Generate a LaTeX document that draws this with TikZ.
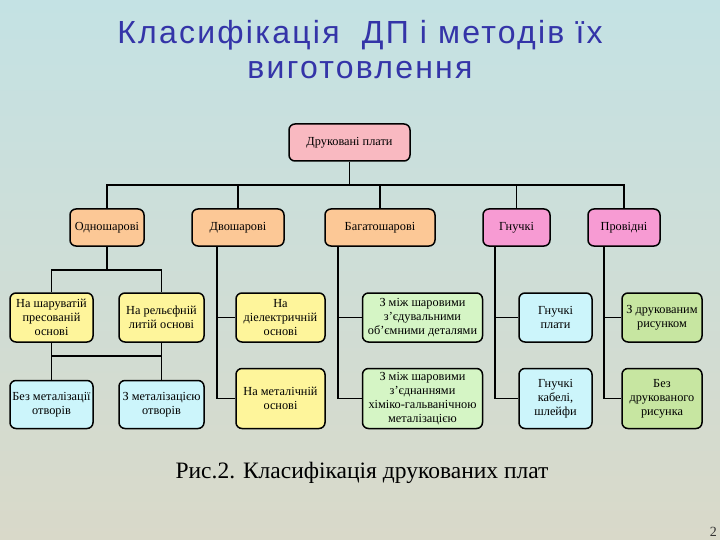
\documentclass[tikz,border=0pt]{standalone}
\usepackage{fontspec}
\setmainfont{Liberation Serif}
\newfontfamily\titlefont[LetterSpace=7]{Liberation Sans}
\usetikzlibrary{positioning}
\definecolor{titleBlue}{HTML}{3434A8}
\definecolor{rootPink}{HTML}{F9B9C1}
\definecolor{typeOrange}{HTML}{FCC896}
\definecolor{typeMagenta}{HTML}{F79BD3}
\definecolor{baseYellow}{HTML}{FEF59B}
\definecolor{holeCyan}{HTML}{CCF5FB}
\definecolor{layerGreen}{HTML}{D5F5C5}
\definecolor{wireGreen}{HTML}{C7E6A1}
\definecolor{bgTop}{HTML}{C4E2E4}
\definecolor{bgMid}{HTML}{E3ECE4}
\definecolor{bgBottom}{HTML}{D9D9C9}

\begin{document}
\begin{tikzpicture}[
            x=1pt, y=-1pt,
            box/.style={
                    rectangle,
                    rounded corners=6pt,
                    draw=black,
                    line width=1.5pt,
                    minimum height=37pt,
                    inner xsep=2pt,
                    inner ysep=1pt,
                    align=center,
                    font=\fontsize{12.3}{14}\selectfont
                },
            link/.style={line width=1.6pt}
        ]
        \useasboundingbox (0,0) rectangle (720,540);
        \shade[top color=bgTop, middle color=bgMid, bottom color=bgBottom] (0,0) rectangle (720,540);

        \node[font=\titlefont\fontsize{32}{35}\selectfont, text=titleBlue, align=center] (title) at (360,50) {Класифікація\ \ ДП і методів їх\\виготовлення};

        \node[box, fill=rootPink, minimum width=121pt] (plata) at (349.5,142.5) {Друковані плати};

        \node[box, fill=typeOrange, minimum width=74pt] (odn) at (107,227.5) {Одношарові};
        \node[box, fill=typeOrange, minimum width=92pt] (dvo) at (238,227.5) {Двошарові};
        \node[box, fill=typeOrange, minimum width=110pt] (bag) at (380,227.5) {Багатошарові};
        \node[box, fill=typeMagenta, minimum width=67pt] (gnu) at (516.5,227.5) {Гнучкі};
        \node[box, fill=typeMagenta, minimum width=72pt] (pro) at (624,227.5) {Провідні};

        \node[box, fill=baseYellow, minimum width=83pt, minimum height=49pt] (odnA) at (51.5,317.5) {На шаруватій\\пресованій\\основі};
        \node[box, fill=baseYellow, minimum width=85pt, minimum height=49pt] (odnB) at (161.5,317.5) {На рельєфній\\литій основі};
        \node[box, fill=holeCyan, minimum width=83pt, minimum height=48pt, below=37pt of odnA] (holeA) {Без металізації\\отворів};
        \node[box, fill=holeCyan, minimum width=85pt, minimum height=48pt, below=37pt of odnB] (holeB) {З металізацією\\отворів};

        \node[box, fill=baseYellow, minimum width=89pt, minimum height=49pt] (dvoA) at (280.5,317.5) {На\\діелектричній\\основі};
        \node[box, fill=baseYellow, minimum width=89pt, minimum height=60pt, below=25pt of dvoA] (dvoB) {На металічній\\основі};

        \node[box, fill=layerGreen, minimum width=120pt, minimum height=49pt] (bagA) at (422.5,317.5) {З між шаровими\\з’єдувальними\\об’ємними деталями};
        \node[box, fill=layerGreen, minimum width=120pt, minimum height=60pt, below=25pt of bagA] (bagB) {З між шаровими\\з’єднаннями\\хіміко-гальванічною\\металізацією};

        \node[box, fill=holeCyan, minimum width=73pt, minimum height=49pt] (gnuA) at (555.5,317.5) {Гнучкі\\плати};
        \node[box, fill=holeCyan, minimum width=73pt, minimum height=60pt, below=25pt of gnuA] (gnuB) {Гнучкі\\кабелі,\\шлейфи};

        \node[box, fill=wireGreen, minimum width=80pt, minimum height=49pt] (proA) at (662,317.5) {З друкованим\\рисунком};
        \node[box, fill=wireGreen, minimum width=80pt, minimum height=60pt, below=25pt of proA] (proB) {Без\\друкованого\\рисунка};

        \node[font=\fontsize{23.5}{28}\selectfont, anchor=base] (caption) at (362,478) {Рис.2. Класифікація друкованих плат};
        \node[font=\fontsize{14}{16}\selectfont, text=black!80, anchor=south east, inner sep=1pt] (pagenum) at (718,538) {2};

        \coordinate (bus) at (349.5,185);
        \draw[link] (plata.south) -- (bus);
        \draw[link] (odn.north) |- (bus) -| (pro.north);
        \draw[link] (dvo.north) -- (dvo.north |- bus);
        \draw[link] (bag.north) -- (bag.north |- bus);
        \draw[link] (gnu.north) -- (gnu.north |- bus);

        \draw[link] (odn.south) -- ++(0,23) coordinate (odnbus);
        \draw[link] (odnA.north) |- (odnbus) -| (odnB.north);
        \draw[link] (odnA.south) -- ++(0,13) coordinate (holebus) -- (holeA.north);
        \draw[link] (odnB.south) -- (holeB.north);
        \draw[link] (holebus) -- (holebus -| odnB.south);

        \coordinate (dvoT) at ([xshift=-21pt]dvo.south);
        \draw[link] (dvoT) |- (dvoB.west);
        \draw[link] (dvoT |- dvoA.west) -- (dvoA.west);

        \coordinate (bagT) at ([xshift=-42pt]bag.south);
        \draw[link] (bagT) |- (bagB.west);
        \draw[link] (bagT |- bagA.west) -- (bagA.west);

        \coordinate (gnuT) at ([xshift=-21.5pt]gnu.south);
        \draw[link] (gnuT) |- (gnuB.west);
        \draw[link] (gnuT |- gnuA.west) -- (gnuA.west);

        \coordinate (proT) at ([xshift=-20pt]pro.south);
        \draw[link] (proT) |- (proB.west);
        \draw[link] (proT |- proA.west) -- (proA.west);
    \end{tikzpicture}
\end{document}
